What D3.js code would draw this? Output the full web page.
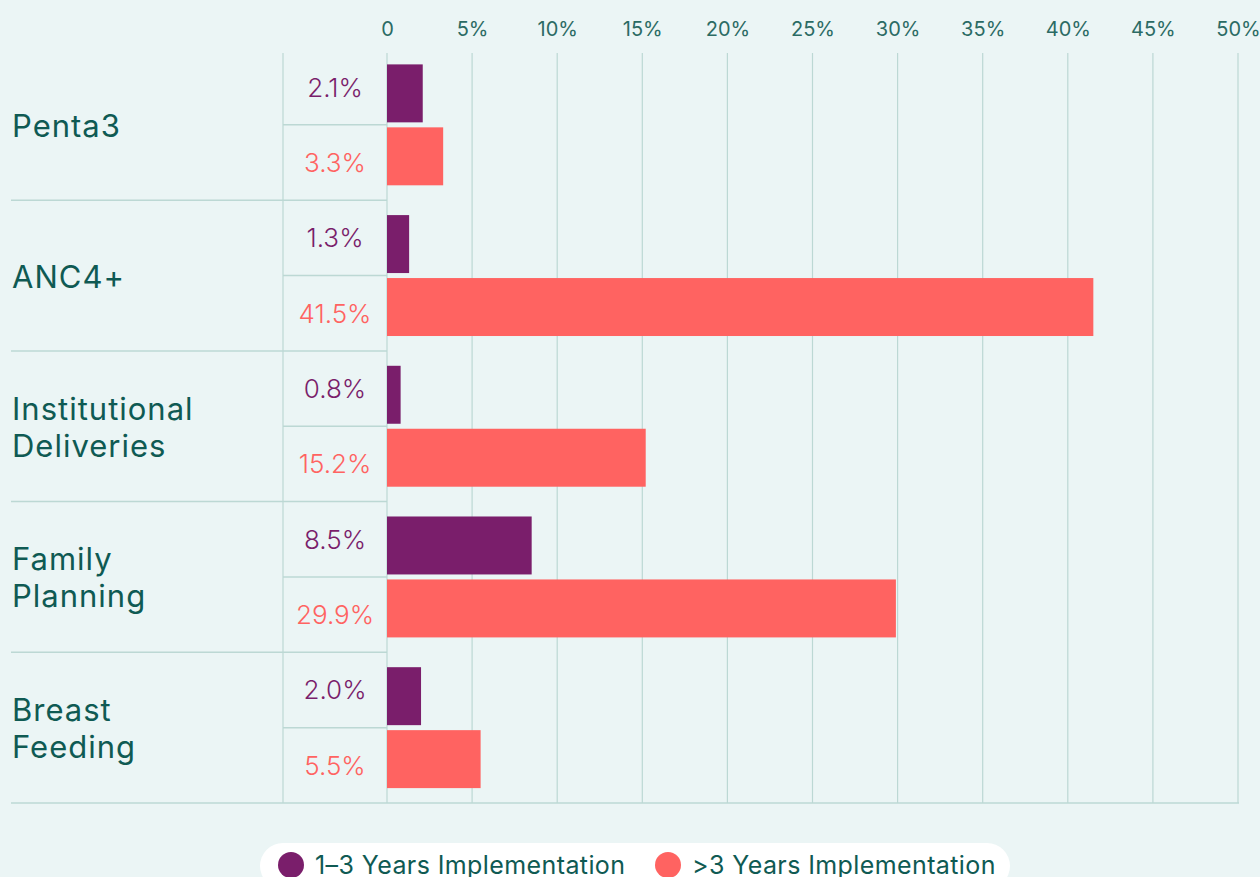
<!DOCTYPE html>
<html><head><meta charset="utf-8">
<script src="https://cdn.jsdelivr.net/npm/d3@7"></script>
<style>
html,body{margin:0;padding:0;background:#ebf5f5;overflow:hidden}
svg{display:block;font-family:Inter,"Open Sans",sans-serif}
</style></head>
<body>
<svg id="chart" width="1260" height="877"></svg>
<script>
const categories = ["Penta3", "ANC4+", "Institutional Deliveries", "Family Planning", "Breast Feeding"];
const seriesNames = ["1–3 Years Implementation", ">3 Years Implementation"];
const shortTerm = [2.1, 1.3, 0.8, 8.5, 2.0];
const longTerm = [3.3, 41.5, 15.2, 29.9, 5.5];
const tickValues = [0, 5, 10, 15, 20, 25, 30, 35, 40, 45, 50];
const tickLabels = ["0", "5%", "10%", "15%", "20%", "25%", "30%", "35%", "40%", "45%", "50%"];

const colors = ["#7a1e6b", "#ff6361"];
const gridColor = "#bcd8d4";
const textColor = "#0f5a53";

const svg = d3.select("#chart");
const x = d3.scaleLinear().domain([0, 50]).range([387, 1238]);
const y = d3.scaleBand().domain(categories).range([49.5, 803]).padding(0);
const sub = d3.scaleBand().domain([0, 1]).range([0, y.bandwidth()]).paddingInner(0.0794).paddingOuter(0.2365);
const half = d3.scaleBand().domain([0, 1]).range([0, y.bandwidth()]);

const data = categories.map((c, i) => ({cat: c, vals: [shortTerm[i], longTerm[i]]}));

// vertical grid lines
svg.append("g").selectAll("line").data(tickValues).join("line")
  .attr("x1", d => x(d)).attr("x2", d => x(d))
  .attr("y1", 53).attr("y2", 803)
  .attr("stroke", gridColor).attr("stroke-width", 1.2);

// label column divider
svg.append("line").attr("x1", 283).attr("x2", 283).attr("y1", 53).attr("y2", 803)
  .attr("stroke", gridColor).attr("stroke-width", 1.2);

// row dividers
svg.append("g").selectAll("line").data(categories.slice(1)).join("line")
  .attr("x1", 11).attr("x2", x(0))
  .attr("y1", d => y(d)).attr("y2", d => y(d))
  .attr("stroke", gridColor).attr("stroke-width", 1.5);
// sub dividers
svg.append("g").selectAll("line").data(categories).join("line")
  .attr("x1", 283).attr("x2", x(0))
  .attr("y1", d => y(d) + half(1)).attr("y2", d => y(d) + half(1))
  .attr("stroke", gridColor).attr("stroke-width", 1.5);
// bottom line
svg.append("line").attr("x1", 11).attr("x2", x(50) + 1)
  .attr("y1", y.range()[1]).attr("y2", y.range()[1])
  .attr("stroke", gridColor).attr("stroke-width", 1.5);

// axis
const axis = d3.axisTop(x).tickValues(tickValues).tickFormat((d, i) => tickLabels[i]).tickSize(0).tickPadding(3);
const ag = svg.append("g").attr("transform", "translate(0,39)").call(axis);
ag.select(".domain").remove();
ag.selectAll("text").attr("font-size", 20).attr("fill", "#2b6b64").attr("font-family", "Inter, sans-serif");

// bars
const rows = svg.append("g").selectAll("g").data(data).join("g")
  .attr("transform", d => `translate(0,${y(d.cat)})`);
rows.selectAll("rect").data(d => d.vals).join("rect")
  .attr("x", x(0)).attr("y", (d, i) => sub(i))
  .attr("width", d => x(d) - x(0)).attr("height", sub.bandwidth())
  .attr("fill", (d, i) => colors[i]);

// value labels
rows.selectAll("text.val").data(d => d.vals).join("text").attr("class", "val")
  .attr("x", 335).attr("y", (d, i) => half(i) + half.bandwidth() / 2)
  .attr("text-anchor", "middle").attr("dominant-baseline", "central")
  .attr("font-size", 26).attr("font-weight", 300)
  .attr("fill", (d, i) => colors[i])
  .text(d => d.toFixed(1) + "%");

// category labels
rows.each(function(d) {
  const words = d.cat.split(" ");
  const lh = 37;
  const cy = y.bandwidth() / 2;
  const t = d3.select(this).append("text")
    .attr("x", 12).attr("font-size", 31).attr("letter-spacing", 1).attr("fill", textColor)
    .attr("dominant-baseline", "central");
  words.forEach((w, k) => {
    t.append("tspan").attr("x", 12).attr("y", cy + (k - (words.length - 1) / 2) * lh).text(w);
  });
});

// legend
const lg = svg.append("g");
lg.append("rect").attr("x", 260).attr("y", 843).attr("width", 750).attr("height", 46).attr("rx", 23).attr("fill", "#ffffff");
const legendX = [291, 668];
seriesNames.forEach((n, i) => {
  lg.append("circle").attr("cx", legendX[i]).attr("cy", 865).attr("r", 13).attr("fill", colors[i]);
  lg.append("text").attr("x", legendX[i] + 24).attr("y", 865).attr("dominant-baseline", "central")
    .attr("font-size", 25).attr("letter-spacing", 0.4).attr("fill", textColor).text(n);
});
</script>
</body></html>
